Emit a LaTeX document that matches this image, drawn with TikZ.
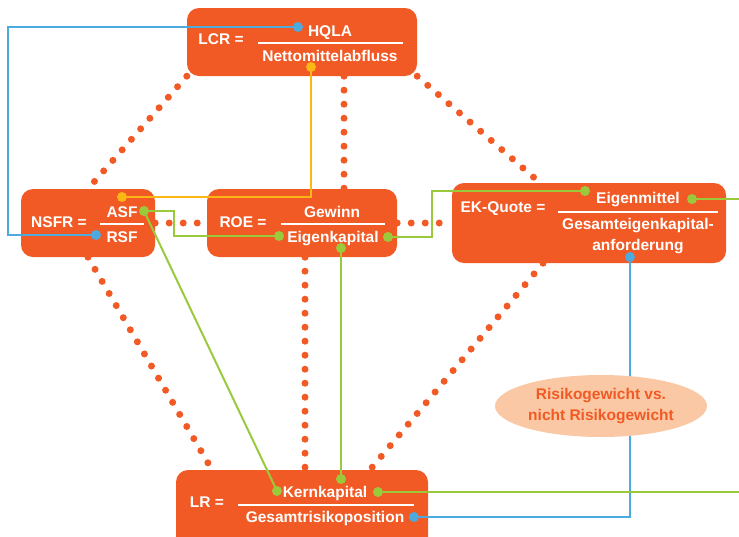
\documentclass[tikz,border=0pt]{standalone}
\usepackage{fontspec}
\setmainfont{Liberation Sans}
\usepackage{xcolor}
\usepackage{tikz}
\usetikzlibrary{positioning, shapes.geometric}
\definecolor{boxorange}{RGB}{241,90,36}
\definecolor{linkblue}{RGB}{76,170,222}
\definecolor{linkgreen}{RGB}{154,202,60}
\definecolor{linkyellow}{RGB}{251,184,20}
\definecolor{peach}{RGB}{250,200,164}
\pgfdeclarelayer{bg}
\pgfsetlayers{bg,main}
\tikzset{
  box/.style={fill=boxorange, rounded corners=12pt, inner sep=0pt},
  txt/.style={text=white, font=\fontsize{15.5}{18}\selectfont\bfseries, inner sep=0pt, anchor=base},
  dots/.style={draw=boxorange, line width=7pt, line cap=round, dash pattern=on 0pt off 14pt},
  link/.style={line width=2pt},
  fracline/.style={draw=white, line width=1.5pt},
}

\begin{document}
\begin{tikzpicture}[x=1pt, y=-1pt]
\useasboundingbox (0,0) rectangle (739,536);

% ratio boxes
\node (lcr) [box, minimum width=230pt, minimum height=68pt] at (302,42) {};
\node (nsfr) [box, minimum width=134pt, minimum height=68pt] at (88,223) {};
\node (roe) [box, minimum width=190pt, minimum height=68pt] at (302,223) {};
\node (ekq) [box, minimum width=274pt, minimum height=80pt] at (589,223) {};
\node (lr) [box, minimum width=252pt, minimum height=80pt] at (302,510) {};

% dotted relations
\begin{pgfonlayer}{bg}
  \draw[dots] (lcr.south west) -- (nsfr.north);
  \draw[dots] ([xshift=42pt]lcr.south) -- ([xshift=42pt]roe.north);
  \draw[dots] (lcr.south east) -- ([xshift=-49pt]ekq.north);
  \draw[dots] (nsfr.east) -- (roe.west);
  \draw[dots] (roe.east) -- (ekq.west);
  \draw[dots] (nsfr.south) -- ([xshift=-90pt]lr.north);
  \draw[dots] ([xshift=3pt]roe.south) -- ([xshift=3pt]lr.north);
  \draw[dots] ([xshift=-46pt]ekq.south) -- ([xshift=68pt]lr.north);
\end{pgfonlayer}

% fraction bars
\draw[fracline] (258,43) -- (403,43);
\draw[fracline] (100,224) -- (144,224);
\draw[fracline] (281,224) -- (385,224);
\draw[fracline] (558,212) -- (718,212);
\draw[fracline] (238,505) -- (414,505);

% link end points
\coordinate (hqlaDot) at (298,27);
\coordinate (rsfDot) at (96,235);
\coordinate (nettoDot) at (311,67);
\coordinate (asfTopDot) at (122,197);
\coordinate (asfDot) at (144,211);
\coordinate (eigenLDot) at (279,236);
\coordinate (eigenRDot) at (388,237);
\coordinate (eigenBDot) at (341,248);
\coordinate (emittelLDot) at (585,191);
\coordinate (emittelRDot) at (692,199);
\coordinate (anfDot) at (630,257);
\coordinate (kernLDot) at (277,491);
\coordinate (kernTDot) at (341,479);
\coordinate (kernRDot) at (378,492);
\coordinate (grpDot) at (414,517);
\coordinate (edgeA) at (739,199);
\coordinate (edgeB) at (739,492);
\coordinate (blueLeft) at (8,130);
\coordinate (greenBendA) at (174,220);
\coordinate (greenBendB) at (432,215);

% links
\draw[link, linkblue] (hqlaDot) -| (blueLeft) |- (rsfDot);
\draw[link, linkblue] (anfDot) |- (grpDot);
\draw[link, linkyellow] (nettoDot) |- (asfTopDot);
\draw[link, linkgreen] (asfDot) -| (greenBendA) |- (eigenLDot);
\draw[link, linkgreen] (asfDot) -- (kernLDot);
\draw[link, linkgreen] (eigenRDot) -| (greenBendB) |- (emittelLDot);
\draw[link, linkgreen] (eigenBDot) -- (kernTDot);
\draw[link, linkgreen] (emittelRDot) -- (edgeA);
\draw[link, linkgreen] (kernRDot) -- (edgeB);

\foreach \p in {hqlaDot, rsfDot, anfDot, grpDot}
  \fill[linkblue] (\p) circle (5pt);
\foreach \p in {nettoDot, asfTopDot}
  \fill[linkyellow] (\p) circle (5pt);
\foreach \p in {asfDot, eigenLDot, eigenRDot, eigenBDot, emittelLDot, emittelRDot, kernLDot, kernTDot, kernRDot}
  \fill[linkgreen] (\p) circle (5pt);

% note
\node (riskNote) [ellipse, fill=peach, minimum width=212pt, minimum height=62pt, inner sep=0pt,
  align=center, text=boxorange, font=\fontsize{15.5}{21}\selectfont\bfseries] at (601,406)
  {Risikogewicht vs.\\nicht Risikogewicht};

% labels
\node (lcrLbl) [txt] at (221,44) {LCR =};
\node (hqla) [txt] at (330,36) {HQLA};
\node (netto) [txt] at (330,61) {Nettomittelabfluss};
\node (nsfrLbl) [txt] at (59,227) {NSFR =};
\node (asf) [txt] at (122,217) {ASF};
\node (rsf) [txt] at (122,242) {RSF};
\node (roeLbl) [txt] at (243,227) {ROE =};
\node (gewinn) [txt] at (332,217) {Gewinn};
\node (eigenkap) [txt] at (333,242) {Eigenkapital};
\node (ekqLbl) [txt] at (503,212) {EK-Quote =};
\node (emittel) [txt] at (638,203) {Eigenmittel};
\node (gesEK) [txt] at (638,229) {Gesamteigenkapital-};
\node (anford) [txt] at (638,250) {anforderung};
\node (lrLbl) [txt] at (207,507) {LR =};
\node (kern) [txt] at (325,497) {Kernkapital};
\node (grp) [txt] at (325,522) {Gesamtrisikoposition};
\end{tikzpicture}
\end{document}
